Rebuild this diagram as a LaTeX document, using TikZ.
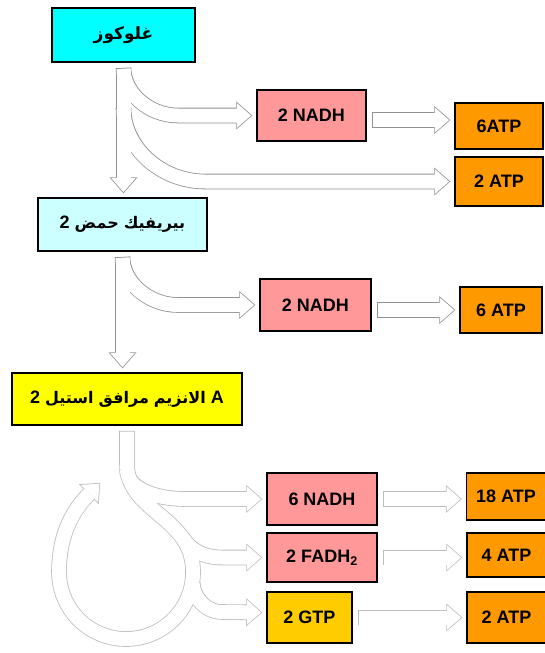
\documentclass[tikz,border=0pt]{standalone}
\usepackage{fontspec}
\setmainfont{Liberation Sans}
\newfontfamily\arabicfont[Script=Arabic]{DejaVu Sans}
\usetikzlibrary{arrows.meta,backgrounds}

\definecolor{glucose}{RGB}{0,255,255}
\definecolor{pyruvate}{RGB}{204,255,255}
\definecolor{acetyl}{RGB}{255,255,0}
\definecolor{carrier}{RGB}{255,153,153}
\definecolor{atp}{RGB}{255,153,0}
\definecolor{gtp}{RGB}{255,204,0}
\definecolor{flowline}{RGB}{145,145,145}

% one Arabic word, boxed, so the words stay in the order of the picture
\newcommand\arword[1]{\mbox{\arabicfont\bfseries\fontsize{16}{18}\selectfont #1}}

\tikzset{
    box/.style={draw=black, line width=1.4pt, inner sep=0pt,
        font=\fontsize{18}{20}\selectfont\bfseries},
    arabic/.style={font=\arabicfont\bfseries\fontsize{17}{19}\selectfont},
    outer/.style={draw=flowline, line width=15.6pt,
        shorten <=5.2pt, shorten >=4pt,
        -{Triangle[length=16pt,width=28pt,line width=0pt]}},
    inner/.style={draw=white, line width=14pt,
        shorten <=6pt, shorten >=5.2pt,
        -{Triangle[length=14pt,width=24.5pt,line width=0pt]}}
}

\begin{document}
\begin{tikzpicture}[x=1pt, y=1pt]
    \useasboundingbox (0,0) rectangle (545,-653);

    % main chain
    \node[box, arabic, fill=glucose, minimum width=143pt, minimum height=54pt]
        (glc) at (123.5,-35) {غلوكوز};
    \node[box, fill=pyruvate, minimum width=169pt, minimum height=53pt]
        (pyr) at (122.5,-224.5) {\mbox{2} \arword{حمض} \arword{بيريفيك}};
    \node[box, fill=acetyl, minimum width=230pt, minimum height=52pt]
        (aca) at (127,-399)
        {\mbox{2} \arword{استيل} \arword{مرافق} \arword{الانزيم} \mbox{A}};

    % carriers and yields
    \node[box, fill=carrier, minimum width=109pt, minimum height=51pt]
        (nadh1) at (311.5,-115.5) {2 NADH};
    \node[box, fill=atp, minimum width=88pt, minimum height=46pt]
        (atp1) at (499,-126) {6ATP};
    \node[box, fill=atp, minimum width=88pt, minimum height=49pt]
        (atp2) at (499,-181.5) {2 ATP};
    \node[box, fill=carrier, minimum width=111pt, minimum height=52pt]
        (nadh2) at (315.5,-305) {2 NADH};
    \node[box, fill=atp, minimum width=82pt, minimum height=46pt]
        (atp3) at (501,-310) {6 ATP};
    \node[box, fill=carrier, minimum width=110pt, minimum height=52pt]
        (nadh3) at (322,-499) {6 NADH};
    \node[box, fill=atp, minimum width=79pt, minimum height=47pt]
        (atp4) at (506,-496.5) {18 ATP};
    \node[box, fill=carrier, minimum width=110pt, minimum height=49pt]
        (fadh) at (322,-557.5) {2 FADH\textsubscript{2}};
    \node[box, fill=atp, minimum width=79pt, minimum height=44pt]
        (atp5) at (506.5,-555) {4 ATP};
    \node[box, fill=gtp, minimum width=85pt, minimum height=51pt]
        (gtp) at (309.5,-617.5) {2 GTP};
    \node[box, fill=atp, minimum width=79pt, minimum height=51pt]
        (atp6) at (506.5,-617.5) {2 ATP};

    % bends of the hollow arrows
    \coordinate (s2) at ([yshift=-40pt]glc.south);
    \coordinate (k1) at (178,-115.5);
    \coordinate (k2) at (205,-181.5);
    \coordinate (k3) at (178,-305);
    \coordinate (r0) at ([yshift=-38pt]aca.south);
    \coordinate (r1) at (192,-560.4);
    \coordinate (rt) at (103,-480);
    \coordinate (f0) at (180,-533);
    \coordinate (g0) at (192.7,-577.8);
    \coordinate (k4) at (185,-499);
    \coordinate (k5) at (222,-557.5);
    \coordinate (k6) at (222,-612);

    \begin{scope}[on background layer]
        \foreach \pass in {outer,inner} {
            \draw[\pass] (glc) -- (glc |- pyr.north);
            \draw[\pass] (glc.south) to[out=-90, in=180] (k1) -- (nadh1.west);
            \draw[\pass] (s2) to[out=-90, in=180] (k2) -- (atp2.west);
            \draw[\pass] ([yshift=-4.5pt]nadh1.east) -- ([yshift=6pt]atp1.west);
            \draw[\pass] (pyr) -- (pyr |- aca.north);
            \draw[\pass] (pyr.south) to[out=-90, in=180] (k3) -- (nadh2.west);
            \draw[\pass] (nadh2.east |- atp3.west) -- (atp3.west);
            % the cycle, paler
            \begin{scope}
                \colorlet{flowline}{flowline!60}
                \draw[\pass] (aca) -- (r0) to[out=-90, in=100] (r1)
                    arc[start angle=10, end angle=-180, radius=67]
                    to[out=90, in=-135] (rt);
                \draw[\pass] (r0) to[out=-90, in=180] (k4) -- (nadh3.west);
                \draw[\pass] (f0) to[out=-60, in=180] (k5) -- (fadh.west);
                \draw[\pass] (g0) to[out=-90, in=180] (k6) -- ([yshift=5pt]gtp.west);
                \draw[\pass] (nadh3.east) -- (nadh3.east -| atp4.west);
                \draw[\pass] (fadh.east) -- (fadh.east -| atp5.west);
                \draw[\pass] (gtp.east) -- (atp6.west);
            \end{scope}
        }
    \end{scope}
\end{tikzpicture}
\end{document}
